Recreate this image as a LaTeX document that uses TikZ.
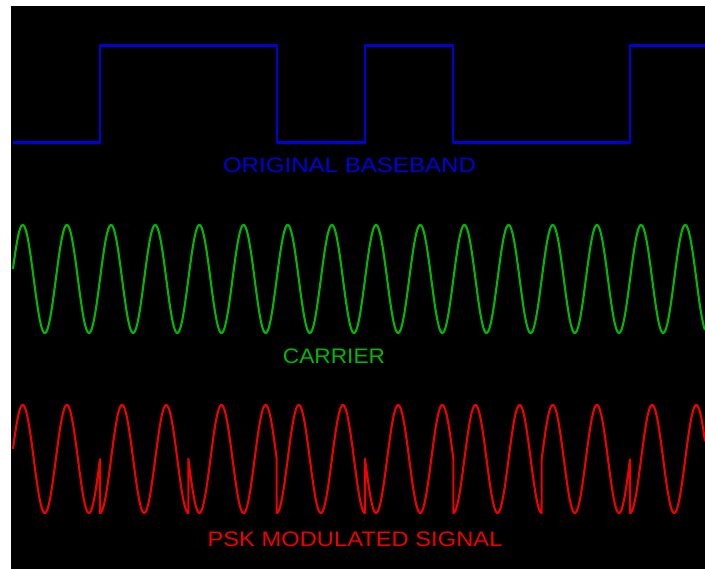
\documentclass[tikz,border=0pt]{standalone}
\usepackage{fontspec}
\setmainfont{Liberation Sans}
\definecolor{bblue}{RGB}{0,0,220}
\definecolor{cgreen}{RGB}{0,185,0}
\definecolor{cred}{RGB}{240,0,0}
\begin{document}
\begin{tikzpicture}[x=1pt,y=-1pt,
  wave/.style={line width=2.1pt, line join=round},
  lbl/.style={anchor=base, inner sep=0pt, font=\fontsize{21}{21}\selectfont}]
\useasboundingbox (0,0) rectangle (705,569);
\fill[white] (0,0) rectangle (705,569);
\fill[black] (11,6) rectangle (705,569);
% baseband
\draw[wave, bblue] (13,142.5) -- (100,142.5) -- (100,45.5) -- (276.7,45.5) -- (276.7,142.5)
  -- (365,142.5) -- (365,45.5) -- (453.3,45.5) -- (453.3,142.5) -- (630,142.5) -- (630,45.5) -- (705,45.5);
% carrier
\draw[wave, cgreen] plot[domain=13:705, samples=800] (\x,{279-54*sin(8.1503*(\x-11.67))});
% PSK
\draw[wave, cred]
  plot[domain=13:100, samples=120] (\x,{459-54*sin(8.1503*(\x-11.67))})
  -- plot[domain=100:188.33, samples=120] (\x,{459-54*sin(8.1503*(\x-11.67)-90)})
  -- plot[domain=188.33:276.67, samples=120] (\x,{459-54*sin(8.1503*(\x-11.67)-180)})
  -- plot[domain=276.67:365, samples=120] (\x,{459-54*sin(8.1503*(\x-11.67)-90)})
  -- plot[domain=365:453.33, samples=120] (\x,{459-54*sin(8.1503*(\x-11.67)-180)})
  -- plot[domain=453.33:541.67, samples=120] (\x,{459-54*sin(8.1503*(\x-11.67)-90)})
  -- plot[domain=541.67:630, samples=120] (\x,{459-54*sin(8.1503*(\x-11.67))})
  -- plot[domain=630:705, samples=110] (\x,{459-54*sin(8.1503*(\x-11.67)-90)});
% labels
\node[lbl, text=bblue] (lbase) at (349.5,172.7) {\scalebox{1.147}[1]{ORIGINAL BASEBAND}};
\node[lbl, text=cgreen] (lcar) at (334,363.3) {\scalebox{1.08}[1]{CARRIER}};
\node[lbl, text=cred] (lpsk) at (355,546.7) {\scalebox{1.13}[1]{PSK MODULATED SIGNAL}};
\end{tikzpicture}
\end{document}
